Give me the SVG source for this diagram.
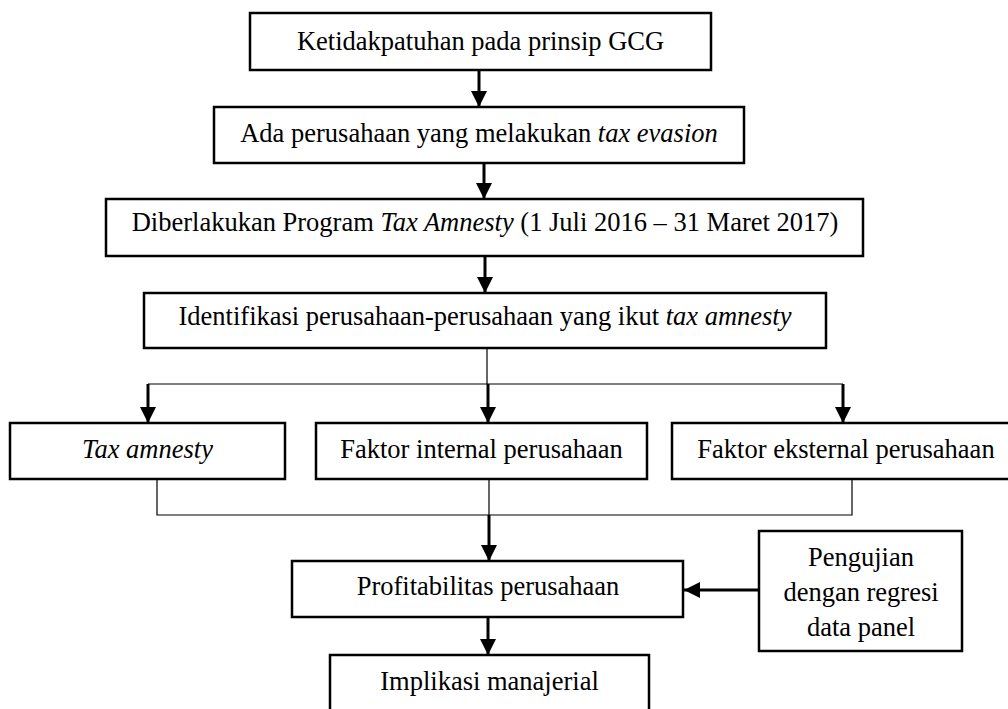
<svg xmlns="http://www.w3.org/2000/svg" width="1008" height="709" viewBox="0 0 1008 709">
<style>
.box{fill:#fff;stroke:#000;stroke-width:2.5}
.t{font-family:"Liberation Serif","Times New Roman",serif;font-size:26.5px;fill:#000;text-anchor:middle}
.i{font-style:italic}
.thin{fill:none;stroke:#000;stroke-width:1.2}
.arr{fill:none;stroke:#000;stroke-width:3;marker-end:url(#ah)}
</style>
<defs>
<marker id="ah" markerUnits="userSpaceOnUse" markerWidth="16" markerHeight="16" refX="16" refY="8" orient="auto">
<path d="M0,0 L16,8 L0,16 z" fill="#000"/>
</marker>
</defs>
<rect width="1008" height="709" fill="#fff"/>
<g id="connectors">
<line class="arr" x1="479" y1="70" x2="479" y2="107"/>
<line class="arr" x1="484" y1="163" x2="484" y2="199"/>
<line class="arr" x1="485" y1="256" x2="485" y2="293"/>
<polyline class="thin" points="487,348 487,384"/>
<polyline class="thin" points="148,384 843,384"/>
<line class="arr" x1="148" y1="384" x2="148" y2="423"/>
<line class="arr" x1="488" y1="384" x2="488" y2="423"/>
<line class="arr" x1="843" y1="384" x2="843" y2="423"/>
<polyline class="thin" points="157,479 157,515 852,515 852,479"/>
<polyline class="thin" points="489,479 489,515"/>
<line class="arr" x1="489" y1="515" x2="489" y2="561"/>
<line class="arr" x1="488" y1="618" x2="488" y2="655"/>
<line class="arr" x1="760" y1="590" x2="684" y2="590"/>
</g>
<g id="n1">
<rect class="box" x="250" y="13" width="461" height="57"/>
<text class="t" x="480.5" y="50">Ketidakpatuhan pada prinsip GCG</text>
</g>
<g id="n2">
<rect class="box" x="214" y="107" width="530" height="56"/>
<text class="t" x="479" y="142">Ada perusahaan yang melakukan <tspan class="i">tax evasion</tspan></text>
</g>
<g id="n3">
<rect class="box" x="106" y="199" width="757" height="57"/>
<text class="t" x="485" y="231">Diberlakukan Program <tspan class="i">Tax Amnesty</tspan> (1 Juli 2016 – 31 Maret 2017)</text>
</g>
<g id="n4">
<rect class="box" x="144" y="293" width="682" height="55"/>
<text class="t" x="485" y="325">Identifikasi perusahaan-perusahaan yang ikut <tspan class="i">tax amnesty</tspan></text>
</g>
<g id="n5">
<rect class="box" x="10" y="423" width="275" height="56"/>
<text class="t i" x="147.5" y="458">Tax amnesty</text>
</g>
<g id="n6">
<rect class="box" x="316" y="423" width="331" height="56"/>
<text class="t" x="481.5" y="458">Faktor internal perusahaan</text>
</g>
<g id="n7">
<rect class="box" x="672" y="423" width="342" height="56"/>
<text class="t" x="846" y="458">Faktor eksternal perusahaan</text>
</g>
<g id="n8">
<rect class="box" x="292" y="561" width="391" height="56"/>
<text class="t" x="488" y="595">Profitabilitas perusahaan</text>
</g>
<g id="n9">
<rect class="box" x="759" y="531" width="203" height="120"/>
<text class="t" x="861" y="566">Pengujian</text>
<text class="t" x="861" y="601">dengan regresi</text>
<text class="t" x="861" y="636">data panel</text>
</g>
<g id="n10">
<rect class="box" x="330" y="655" width="319" height="70"/>
<text class="t" x="489.5" y="690">Implikasi manajerial</text>
</g>
</svg>
